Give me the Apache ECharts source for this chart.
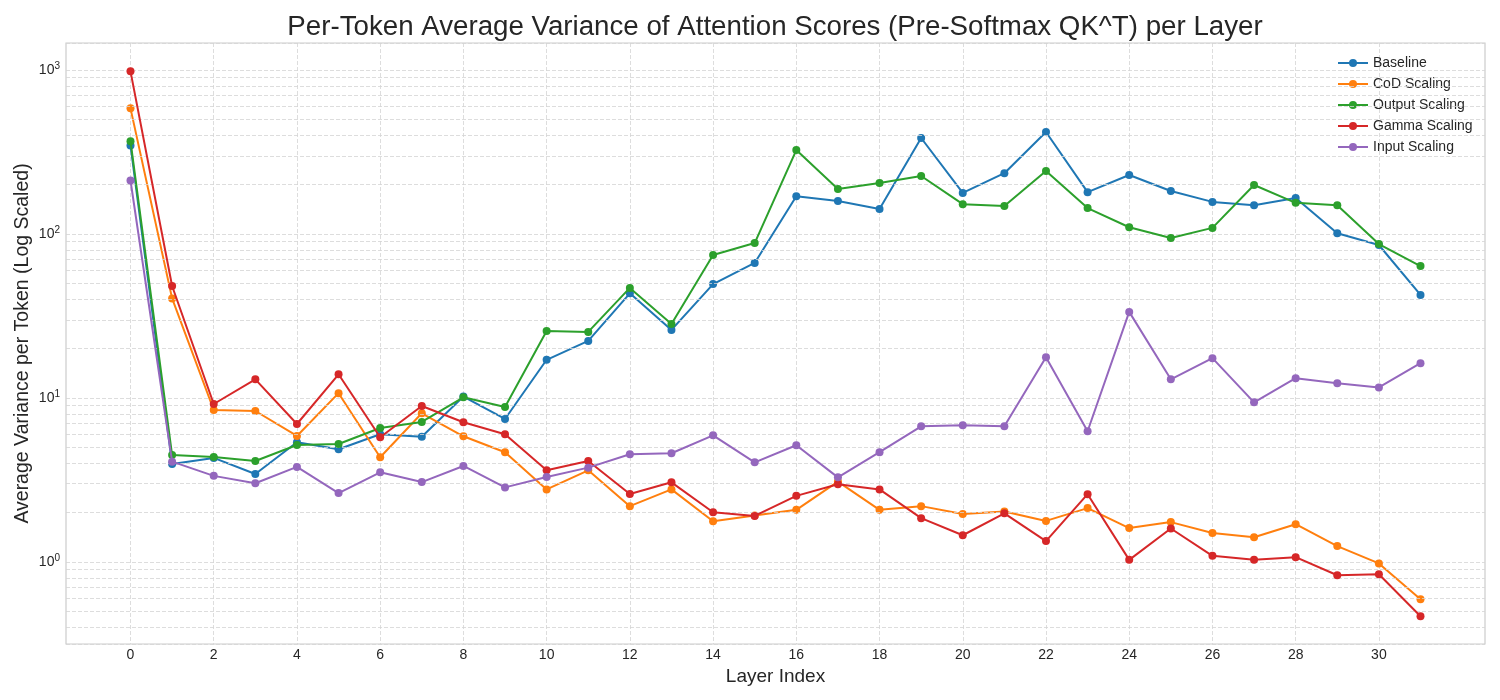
<!DOCTYPE html>
<html>
<head>
<meta charset="utf-8">
<script src="https://cdn.jsdelivr.net/npm/echarts@6/dist/echarts.min.js"></script>
<style>html,body{margin:0;padding:0;background:#fff}#c{width:1500px;height:700px}</style>
</head>
<body>
<div id="c"></div>
<script>
const layers = Array.from({length: 32}, (_, i) => i);
const xTickLabels = [0,2,4,6,8,10,12,14,16,18,20,22,24,26,28,30];
const seriesNames = ['Baseline', 'CoD Scaling', 'Output Scaling', 'Gamma Scaling', 'Input Scaling'];
const baseline = [347, 3.96, 4.31, 3.44, 5.37, 4.87, 6.01, 5.81, 10.2, 7.45, 17.1, 22.3, 43.5, 26.0, 49.5, 66.6, 170, 159, 142, 385, 178, 235, 419, 180, 229, 183, 157, 150, 166, 101, 85.7, 42.5];
const codScaling = [584, 40.5, 8.45, 8.33, 5.87, 10.7, 4.35, 8.07, 5.84, 4.67, 2.77, 3.62, 2.19, 2.77, 1.77, 1.92, 2.08, 3.09, 2.08, 2.19, 1.96, 2.03, 1.78, 2.13, 1.61, 1.75, 1.50, 1.415, 1.70, 1.25, 0.98, 0.593];
const outputScaling = [368, 4.49, 4.37, 4.13, 5.17, 5.24, 6.56, 7.14, 10.1, 8.81, 25.6, 25.3, 46.9, 28.3, 74.5, 88.1, 325, 188, 205, 226, 152, 148, 242, 144, 110, 94.6, 109, 199, 155, 150, 86.9, 63.8];
const gammaScaling = [982, 48.2, 9.19, 13.0, 6.94, 13.95, 5.76, 8.94, 7.11, 6.01, 3.62, 4.13, 2.60, 3.06, 2.01, 1.91, 2.53, 2.98, 2.77, 1.85, 1.455, 1.98, 1.34, 2.59, 1.03, 1.60, 1.09, 1.03, 1.07, 0.83, 0.841, 0.467];
const inputScaling = [212, 4.09, 3.35, 3.02, 3.80, 2.63, 3.52, 3.07, 3.85, 2.85, 3.30, 3.76, 4.54, 4.60, 5.92, 4.05, 5.15, 3.28, 4.67, 6.72, 6.82, 6.72, 17.7, 6.27, 33.5, 13.0, 17.5, 9.41, 13.2, 12.3, 11.6, 16.3];
const minorGridValues = [0.4,0.5,0.6,0.7,0.8,0.9, 2,3,4,5,6,7,8,9, 20,30,40,50,60,70,80,90, 200,300,400,500,600,700,800,900];

const colors = ['#1f77b4', '#ff7f0e', '#2ca02c', '#d62728', '#9467bd'];
const allData = [baseline, codScaling, outputScaling, gammaScaling, inputScaling];
const gridColor = '#d4d4d4';
const textColor = '#262626';
const font = 'Liberation Sans, Arial, sans-serif';

const chart = echarts.init(document.getElementById('c'));
const series = [{
  type: 'line', name: '_grid', data: [], z: 1, silent: true,
  markLine: {
    silent: true, symbol: 'none', animation: false,
    label: {show: false},
    lineStyle: {color: gridColor, width: 0.8, type: [4, 2]},
    data: minorGridValues.map(v => ({yAxis: v}))
  }
}];
seriesNames.forEach((n, i) => {
  series.push({
    type: 'line', name: n, z: 3 + i,
    data: layers.map((x, j) => [x, allData[i][j]]),
    symbol: 'circle', symbolSize: 8,
    itemStyle: {color: colors[i]},
    lineStyle: {color: colors[i], width: 2},
    animation: false
  });
});

chart.setOption({
  backgroundColor: '#fff',
  animation: false,
  title: {
    text: 'Per-Token Average Variance of Attention Scores (Pre-Softmax QK^T) per Layer',
    left: 770, top: 8, textAlign: 'center',
    textStyle: {fontFamily: font, fontSize: 27.7, fontWeight: 'normal', color: textColor}
  },
  legend: {
    data: seriesNames, orient: 'vertical', left: 1332, top: 51,
    itemWidth: 30, itemHeight: 10, itemGap: 7,
    textStyle: {fontFamily: font, fontSize: 14, color: textColor}
  },
  grid: {left: 66, right: 15, top: 43, bottom: 56, show: true, borderColor: '#cccccc', borderWidth: 1.2, containLabel: false},
  xAxis: {
    type: 'value', min: -1.55, max: 32.55,
    name: 'Layer Index', nameLocation: 'middle', nameGap: 22,
    nameTextStyle: {fontFamily: font, fontSize: 19, color: textColor},
    axisLine: {show: false}, axisTick: {show: false, customValues: xTickLabels},
    axisLabel: {customValues: xTickLabels, fontFamily: font, fontSize: 14, color: textColor, margin: 4},
    splitLine: {show: true, lineStyle: {color: gridColor, width: 0.8, type: [4, 2]}}
  },
  yAxis: {
    type: 'log', logBase: 10, min: 0.316, max: 1462,
    name: 'Average Variance per Token (Log Scaled)', nameLocation: 'middle', nameGap: 33,
    nameMoveOverlap: false,
    nameTextStyle: {fontFamily: font, fontSize: 19.5, color: textColor},
    axisLine: {show: false}, axisTick: {show: false},
    axisLabel: {
      fontFamily: font, fontSize: 14, color: textColor, margin: 6,
      showMinLabel: false, showMaxLabel: false,
      formatter: function (v) {
        const l = Math.log10(v); const e = Math.round(l);
        if (Math.abs(l - e) > 1e-6) return '';
        return '10{sup|' + e + '}';
      },
      rich: {sup: {fontFamily: font, fontSize: 10, color: textColor, verticalAlign: 'bottom', padding: [0, 0, 8, 0]}}
    },
    splitLine: {show: true, lineStyle: {color: gridColor, width: 0.8, type: [4, 2]}}
  },
  series: series
});
</script>
</body>
</html>
